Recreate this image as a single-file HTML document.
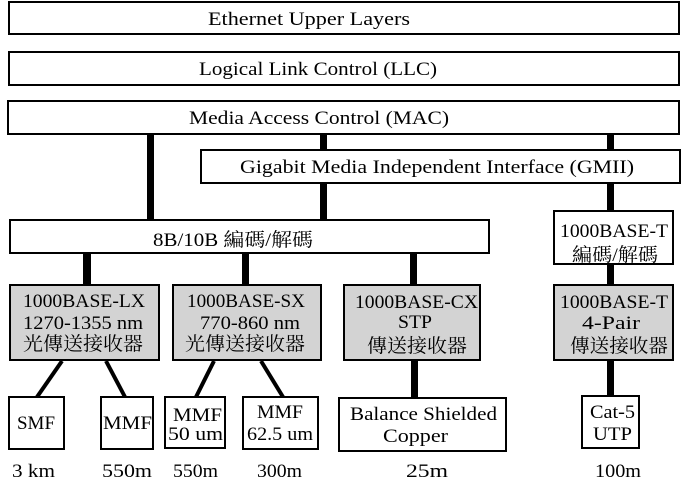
<!DOCTYPE html>
<html><head><meta charset="utf-8"><style>
html,body{margin:0;padding:0;background:#fff;}
svg{display:block;}
text{font-family:"Liberation Serif","Noto Serif CJK SC","Noto Sans CJK TC",serif;font-size:19px;fill:#000;}
.cjk{font-family:"Liberation Serif","Noto Serif CJK SC","Noto Sans CJK TC",serif;font-size:19px;}
</style></head><body>
<svg width="683" height="491" viewBox="0 0 683 491" xmlns="http://www.w3.org/2000/svg">
<g fill="#000">
<rect x="147" y="134" width="7" height="86"/>
<rect x="320" y="134" width="7" height="16"/>
<rect x="320" y="183" width="7" height="37"/>
<rect x="607" y="134" width="7" height="16"/>
<rect x="607" y="183" width="7" height="28"/>
<rect x="607" y="264" width="7" height="21"/>
<rect x="607" y="360" width="7" height="36"/>
<rect x="83" y="253" width="8" height="32"/>
<rect x="242" y="253" width="7" height="32"/>
<rect x="410" y="253" width="7" height="32"/>
<rect x="411" y="360" width="7" height="38"/>
</g>
<g stroke="#000" stroke-width="4" stroke-linecap="butt">
<line x1="62" y1="361" x2="37" y2="397"/>
<line x1="106" y1="361" x2="125" y2="397"/>
<line x1="214" y1="361" x2="196" y2="397"/>
<line x1="261" y1="361" x2="283" y2="397"/>
</g>
<g stroke="#000" stroke-width="2" fill="#fff">
<rect x="9" y="2" width="670" height="32"/>
<rect x="9" y="52" width="670" height="33"/>
<rect x="8" y="101" width="671" height="33"/>
<rect x="201" y="150" width="479" height="33"/>
<rect x="10" y="220" width="479" height="33"/>
<rect x="554" y="211" width="119" height="53"/>
<rect x="10" y="285" width="149" height="75" fill="#d3d3d3"/>
<rect x="173" y="285" width="148" height="75" fill="#d3d3d3"/>
<rect x="344" y="285" width="136" height="75" fill="#d3d3d3"/>
<rect x="554" y="285" width="119" height="75" fill="#d3d3d3"/>
<rect x="9" y="397" width="55" height="52"/>
<rect x="101" y="397" width="52" height="52"/>
<rect x="165" y="397" width="60" height="51"/>
<rect x="243" y="397" width="75" height="52"/>
<rect x="339" y="398" width="167" height="53"/>
<rect x="582" y="396" width="57" height="52"/>
</g>
<text x="208" y="25" textLength="202" lengthAdjust="spacingAndGlyphs">Ethernet Upper Layers</text>
<text x="199" y="75" textLength="238" lengthAdjust="spacingAndGlyphs">Logical Link Control (LLC)</text>
<text x="189" y="124" textLength="260" lengthAdjust="spacingAndGlyphs">Media Access Control (MAC)</text>
<text x="240" y="173" textLength="394" lengthAdjust="spacingAndGlyphs">Gigabit Media Independent Interface (GMII)</text>
<text x="153" y="246" textLength="160" lengthAdjust="spacingAndGlyphs">8B/10B 編碼/解碼</text>

<text x="23" y="307" textLength="122" lengthAdjust="spacingAndGlyphs">1000BASE-LX</text>
<text x="23" y="329" textLength="120" lengthAdjust="spacingAndGlyphs">1270-1355 nm</text>
<text class="cjk" x="23" y="350" textLength="120" lengthAdjust="spacingAndGlyphs">光傳送接收器</text>

<text x="187" y="307" textLength="118" lengthAdjust="spacingAndGlyphs">1000BASE-SX</text>
<text x="200" y="329" textLength="100" lengthAdjust="spacingAndGlyphs">770-860 nm</text>
<text class="cjk" x="185" y="350" textLength="120" lengthAdjust="spacingAndGlyphs">光傳送接收器</text>

<text x="355" y="308" textLength="123" lengthAdjust="spacingAndGlyphs">1000BASE-CX</text>
<text x="398" y="328" textLength="34" lengthAdjust="spacingAndGlyphs">STP</text>
<text class="cjk" x="367" y="352" textLength="100" lengthAdjust="spacingAndGlyphs">傳送接收器</text>

<text x="560" y="237" textLength="108" lengthAdjust="spacingAndGlyphs">1000BASE-T</text>
<text class="cjk" x="572" y="261" textLength="86" lengthAdjust="spacingAndGlyphs">編碼/解碼</text>

<text x="560" y="308" textLength="108" lengthAdjust="spacingAndGlyphs">1000BASE-T</text>
<text x="582" y="329" textLength="58" lengthAdjust="spacingAndGlyphs">4-Pair</text>
<text class="cjk" x="570" y="352" textLength="98" lengthAdjust="spacingAndGlyphs">傳送接收器</text>

<text x="17" y="429" textLength="38" lengthAdjust="spacingAndGlyphs">SMF</text>
<text x="103" y="429" textLength="49" lengthAdjust="spacingAndGlyphs">MMF</text>
<text x="173" y="421" textLength="49" lengthAdjust="spacingAndGlyphs">MMF</text>
<text x="168" y="440" textLength="55" lengthAdjust="spacingAndGlyphs">50 um</text>
<text x="257" y="418" textLength="46" lengthAdjust="spacingAndGlyphs">MMF</text>
<text x="247" y="440" textLength="66" lengthAdjust="spacingAndGlyphs">62.5 um</text>
<text x="350" y="420" textLength="147" lengthAdjust="spacingAndGlyphs">Balance Shielded</text>
<text x="383" y="442" textLength="65" lengthAdjust="spacingAndGlyphs">Copper</text>
<text x="590" y="418" textLength="45" lengthAdjust="spacingAndGlyphs">Cat-5</text>
<text x="593" y="440" textLength="39" lengthAdjust="spacingAndGlyphs">UTP</text>

<text x="12" y="477" textLength="43" lengthAdjust="spacingAndGlyphs">3 km</text>
<text x="102" y="477" textLength="50" lengthAdjust="spacingAndGlyphs">550m</text>
<text x="173" y="477" textLength="45" lengthAdjust="spacingAndGlyphs">550m</text>
<text x="257" y="477" textLength="45" lengthAdjust="spacingAndGlyphs">300m</text>
<text x="406" y="477" textLength="42" lengthAdjust="spacingAndGlyphs">25m</text>
<text x="595" y="477" textLength="46" lengthAdjust="spacingAndGlyphs">100m</text>
</svg>
</body></html>
